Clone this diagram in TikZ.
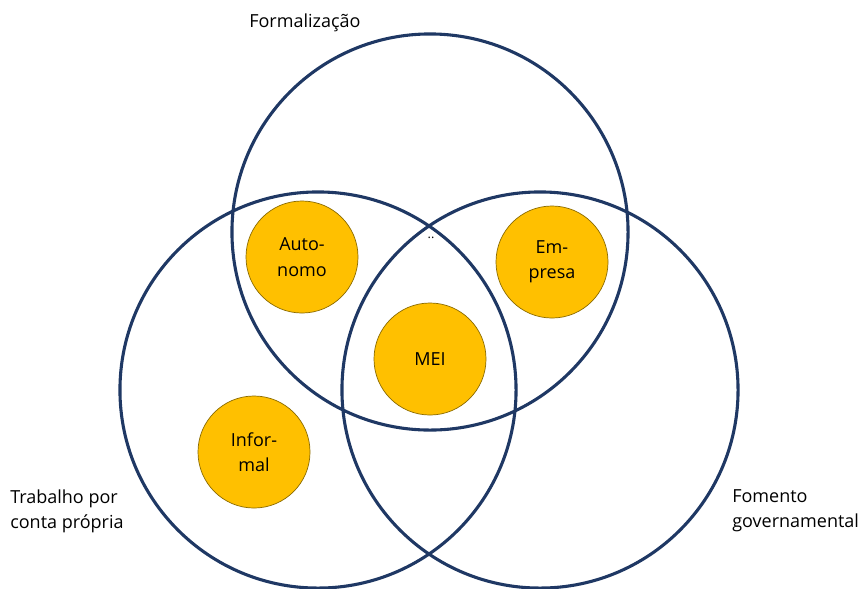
\documentclass[tikz,border=0pt]{standalone}
\usepackage{fontspec}
\setmainfont{Open Sans}
\definecolor{navy}{HTML}{1F3864}
\definecolor{gold}{HTML}{FFC000}
\definecolor{golddark}{HTML}{8A6A00}
\tikzset{
	bigset/.style={circle, draw=navy, line width=2.2pt, minimum size=9.9cm, inner sep=0pt},
	smallset/.style={circle, fill=gold, draw=golddark, line width=0.5pt, minimum size=2.8cm, inner sep=0pt, align=center, font=\fontsize{12.8}{18}\selectfont},
	setlabel/.style={anchor=west, align=left, inner sep=0pt, font=\fontsize{12.8}{18}\selectfont}
}
\begin{document}
\begin{tikzpicture}[x=0.025cm, y=-0.025cm]
		\useasboundingbox (0,0) rectangle (859,588);

		\node[bigset] (Form) at (430,232) {};
		\node[bigset] (Trab) at (318,390) {};
		\node[bigset] (Fom) at (540,390) {};

		\node[setlabel] (LForm) at (249,23) {Formalização};
		\node[setlabel] (LTrab) at (10,511) {Trabalho por\\conta própria};
		\node[setlabel] (LFom) at (732,511) {Fomento\\governamental};

		\node[smallset] (Auto) at (302,257) {Auto-\\nomo};
		\node[smallset] (Emp) at (552,262) {Em-\\presa};
		\node[smallset] (MEI) at (430,359) {MEI};
		\node[smallset] (Inf) at (254,452) {Infor-\\mal};

		\node[inner sep=0pt, font=\fontsize{9}{9}\selectfont] (dots) at (431,238) {..};
	\end{tikzpicture}
\end{document}
